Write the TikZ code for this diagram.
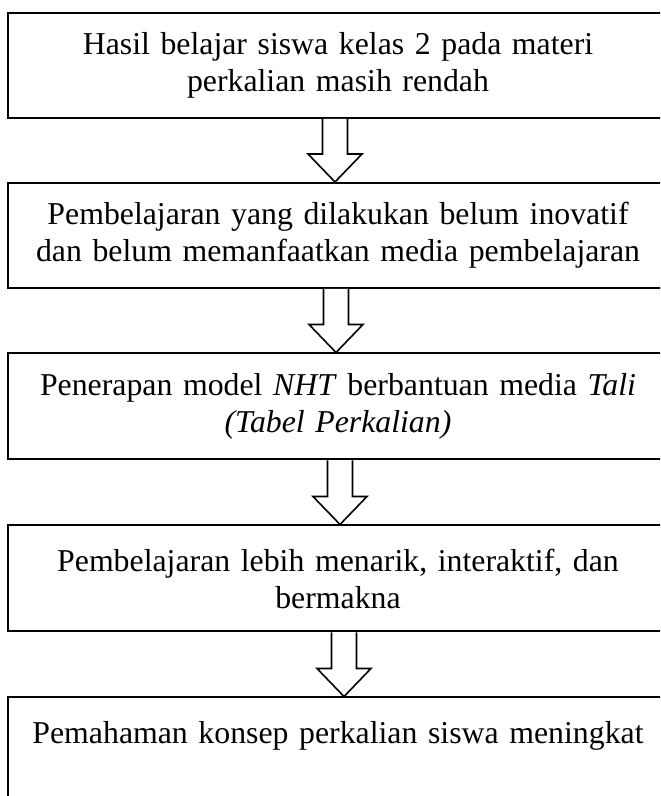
\documentclass[tikz,border=0pt]{standalone}
\usepackage{fontspec}
\setmainfont{Liberation Serif}
\usepackage{xcolor}
\usepackage{tikz}
\usetikzlibrary{calc,positioning}
\tikzset{
  box/.style={draw=black,line width=1pt,fill=white,align=center,text width=320pt,
    minimum width=330pt,minimum height=53pt,inner sep=0pt,
    font=\fontsize{15.9pt}{18.5pt}\selectfont},
  hol/.style={draw=black,line width=0.8pt,fill=white,line join=miter}
}
% hollow block arrow from box #1 down to box #2, shifted by #3
\newcommand{\blkarrow}[3]{%
  \draw[hol] ($(#1.south)+(#3-12.5,0)$) -- ($(#2.north)+(#3-12.5,28)$)
    -- ($(#2.north)+(#3-27,28)$) -- ($(#2.north)+(#3,0)$)
    -- ($(#2.north)+(#3+27,28)$) -- ($(#2.north)+(#3+12.5,28)$)
    -- ($(#1.south)+(#3+12.5,0)$);}

\begin{document}
\begin{tikzpicture}[x=0.5pt,y=0.5pt]
\useasboundingbox (0,0) rectangle (660,796);
\clip (0,0) rectangle (660,796);
\node[box,minimum height=52.5pt] (hasil) at (338,730.5) {Hasil belajar siswa kelas 2 pada materi\\ perkalian masih rendah};
\node[box,minimum height=52.5pt] (belum) at (338,560.5) {Pembelajaran yang dilakukan belum inovatif\\ dan belum memanfaatkan media pembelajaran};
\node[box] (nht) at (338,389.5) {Penerapan model \textit{NHT} berbantuan media \textit{Tali}\\ \textit{(Tabel Perkalian)}};
\node[box] (menarik) at (338,217.5) {Pembelajaran lebih menarik, interaktif, dan\\ bermakna};
\node[box] (paham) at (338,45.5) {Pemahaman konsep perkalian siswa meningkat\\ ~};
\blkarrow{hasil}{belum}{-3}
\blkarrow{belum}{nht}{-2}
\blkarrow{nht}{menarik}{2}
\blkarrow{menarik}{paham}{6}
\end{tikzpicture}
\end{document}
